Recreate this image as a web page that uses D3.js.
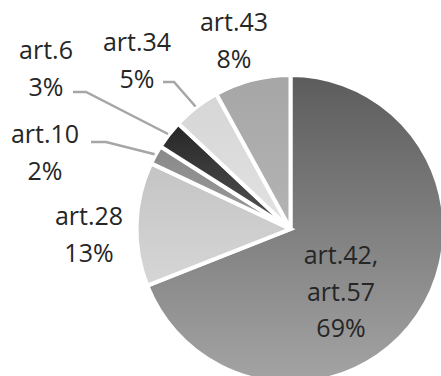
<!DOCTYPE html>
<html><head><meta charset="utf-8">
<script src="https://cdn.jsdelivr.net/npm/d3@7"></script>
<style>html,body{margin:0;padding:0;background:#fff;overflow:hidden}</style>
</head><body>
<script>
const categories = ["art.42,\nart.57", "art.28", "art.10", "art.6", "art.34", "art.43"];
const values = [69, 13, 2, 3, 5, 8];
const percentLabels = ["69%", "13%", "2%", "3%", "5%", "8%"];
// gradient colours (top, bottom) per slice
const gradTop = ["#5c5c5c", "#c4c4c4", "#8a8a8a", "#262626", "#d6d6d6", "#a6a6a6"];
const gradBot = ["#a4a4a4", "#d6d6d6", "#9a9a9a", "#555555", "#e2e2e2", "#b4b4b4"];
// label layout: center x, first baseline y
const labelPos = [[341, 264], [89, 225], [45, 143], [46, 59], [137, 51], [234, 31]];
// leader lines: [start x, start y, elbow x] (null = none)
const leaders = [null, null, [91, 142, 106], [73, 92, 86], [163, 82, 174], null];

const W = 441, H = 376;
const cx = 290.5, cy = 229, R = 154;
const svg = d3.select("body").append("svg").attr("width", W).attr("height", H);
const defs = svg.append("defs");
values.forEach((v, i) => {
  const g = defs.append("linearGradient").attr("id", "g" + i)
    .attr("x1", 0).attr("y1", 0).attr("x2", 0).attr("y2", 1);
  g.append("stop").attr("offset", "0%").attr("stop-color", gradTop[i]);
  g.append("stop").attr("offset", "100%").attr("stop-color", gradBot[i]);
});

const pie = d3.pie().sort(null).value(d => d)(values);
const arc = d3.arc().innerRadius(0).outerRadius(R);
const gp = svg.append("g").attr("transform", `translate(${cx},${cy})`);
gp.selectAll("path").data(pie).join("path")
  .attr("d", arc)
  .attr("fill", (d, i) => `url(#g${i})`)
  .attr("stroke", "#fff").attr("stroke-width", 4).attr("stroke-linejoin", "miter");

// leader lines
pie.forEach((d, i) => {
  const L = leaders[i];
  if (!L) return;
  const a = (d.startAngle + d.endAngle) / 2;
  const ex = cx + Math.sin(a) * (R + 1), ey = cy - Math.cos(a) * (R + 1);
  svg.append("polyline")
    .attr("points", `${L[0]},${L[1]} ${L[2]},${L[1]} ${ex},${ey}`)
    .attr("fill", "none").attr("stroke", "#a6a6a6").attr("stroke-width", 2.5);
});

const lineH = 36.5;
categories.forEach((c, i) => {
  const lines = c.split("\n").concat([percentLabels[i]]);
  const t = svg.append("text")
    .attr("font-family", "'Open Sans', sans-serif")
    .attr("font-size", 25).attr("fill", "#262626")
    .attr("text-anchor", "middle");
  lines.forEach((ln, k) => {
    t.append("tspan").attr("x", labelPos[i][0]).attr("y", labelPos[i][1] + k * lineH).text(ln);
  });
});
</script>
</body></html>
